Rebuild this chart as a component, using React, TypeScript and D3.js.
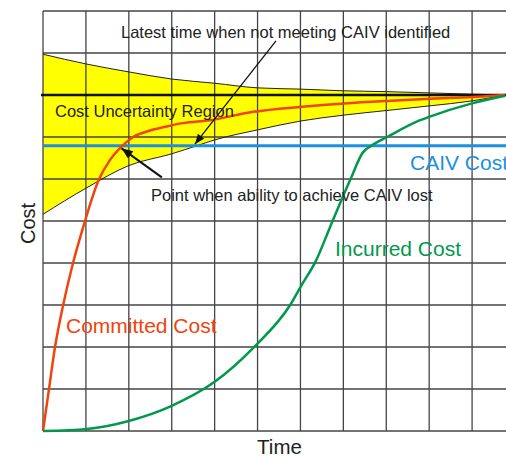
import React from "react";
import * as d3 from "d3";

// ---- data (time units, cost units) ----
const gridX = [0, 1, 2, 3, 4, 5, 6, 7, 8, 9, 10, 11];
const gridY = [0, 1, 2, 3, 4, 5, 6, 7, 8, 9, 10];
const targetCost = 8;
const caivCost = 6.79;

const upperTime = [0, 1, 2, 3, 4, 5, 6, 7, 8, 9, 10, 10.77];
const upperCost = [8.97, 8.74, 8.55, 8.38, 8.28, 8.17, 8.14, 8.1, 8.08, 8.05, 8.02, 8.0];
const lowerTime = [0, 1, 2, 3, 3.58, 4, 5, 6, 7, 8, 9, 10, 10.77];
const lowerCost = [5.16, 5.78, 6.32, 6.6, 6.79, 6.93, 7.17, 7.38, 7.52, 7.63, 7.74, 7.86, 8.0];

const committedTime = [0, 0.14, 0.28, 0.47, 0.7, 0.93, 1.3, 1.56, 1.83, 2.1, 2.42, 2.88, 3.26, 3.89, 4.9, 6.04, 7.02, 8.02, 9.02, 10.0, 10.77];
const committedCost = [0, 1.0, 2.0, 3.0, 4.0, 4.83, 5.98, 6.45, 6.77, 7.0, 7.13, 7.25, 7.33, 7.4, 7.6, 7.72, 7.8, 7.86, 7.91, 7.95, 8.0];

const incurredTime = [0, 1.03, 2.0, 3.0, 4.0, 4.9, 5.76, 6.03, 6.36, 6.68, 7.16, 7.46, 7.65, 8.02, 8.79, 9.0, 10.0, 10.77];
const incurredCost = [0, 0.05, 0.24, 0.6, 1.17, 1.98, 3.0, 3.48, 4.05, 4.83, 5.98, 6.64, 6.79, 7.0, 7.4, 7.48, 7.8, 7.98];

// annotation anchors (data units)
const arrowLatest = { from: [5.43, 9.29], to: [3.54, 6.83] };
const arrowPoint = { from: [2.77, 6.04], to: [1.83, 6.73] };

const W = 506;
const H = 457;

export default function App() {
  const x = d3.scaleLinear().domain([0, 11]).range([43, 515]);
  const y = d3.scaleLinear().domain([0, 10]).range([431, 11]);

  const upper = upperTime.map((t, i) => [t, upperCost[i]] as [number, number]);
  const lower = lowerTime.map((t, i) => [t, lowerCost[i]] as [number, number]);
  const committed = committedTime.map((t, i) => [t, committedCost[i]] as [number, number]);
  const incurred = incurredTime.map((t, i) => [t, incurredCost[i]] as [number, number]);

  const line = d3
    .line<[number, number]>()
    .x((d) => x(d[0]))
    .y((d) => y(d[1]))
    .curve(d3.curveMonotoneX);

  const upperPath = line(upper) || "";
  const lowerPath = line(lower) || "";
  const lowerRevPath = line([...lower].reverse()) || "";
  const regionPath = upperPath + "L" + lowerRevPath.slice(1) + "Z";

  const font = "'Liberation Sans', Arial, Helvetica, sans-serif";
  const gridColor = "#444";

  return (
    <svg
      width={W}
      height={H}
      style={{ position: "absolute", left: 0, top: 0, background: "#fff" }}
      fontFamily={font}
    >
      <defs>
        <marker id="ah1" viewBox="0 0 10 8" refX="10" refY="4" markerWidth="11" markerHeight="8" markerUnits="userSpaceOnUse" orient="auto">
          <path d="M0,0 L10,4 L0,8 Z" fill="#111" />
        </marker>
        <marker id="ah2" viewBox="0 0 10 8" refX="10" refY="4" markerWidth="12" markerHeight="9" markerUnits="userSpaceOnUse" orient="auto">
          <path d="M0,0 L10,4 L0,8 Z" fill="#111" />
        </marker>
      </defs>
      <rect x={0} y={0} width={W} height={H} fill="#fff" />

      {/* uncertainty region */}
      <path d={regionPath} fill="#ffff00" stroke="none" />

      {/* grid */}
      {gridX.map((g) => (
        <line key={"gx" + g} x1={x(g)} x2={x(g)} y1={y(0)} y2={y(10)} stroke={gridColor} strokeWidth={1.3} />
      ))}
      {gridY.map((g) => (
        <line key={"gy" + g} x1={x(0)} x2={x(11)} y1={y(g)} y2={y(g)} stroke={gridColor} strokeWidth={1.3} />
      ))}

      {/* region boundaries */}
      <path d={upperPath} fill="none" stroke="#222" strokeWidth={1} />
      <path d={lowerPath} fill="none" stroke="#222" strokeWidth={1} />

      {/* target line */}
      <line x1={x(0) - 2} x2={x(11)} y1={y(targetCost)} y2={y(targetCost)} stroke="#111" strokeWidth={2.6} />

      {/* CAIV line */}
      <line x1={x(0)} x2={x(11)} y1={y(caivCost)} y2={y(caivCost)} stroke="#1b8fe2" strokeWidth={3} />

      {/* curves */}
      <path d={line(committed) || ""} fill="none" stroke="#f0440c" strokeWidth={2.5} />
      <path d={line(incurred) || ""} fill="none" stroke="#00994c" strokeWidth={2.5} />

      {/* arrows */}
      <line
        x1={x(arrowLatest.from[0])}
        y1={y(arrowLatest.from[1])}
        x2={x(arrowLatest.to[0])}
        y2={y(arrowLatest.to[1])}
        stroke="#111"
        strokeWidth={1.3}
        markerEnd="url(#ah1)"
      />
      <line
        x1={x(arrowPoint.from[0])}
        y1={y(arrowPoint.from[1])}
        x2={x(arrowPoint.to[0])}
        y2={y(arrowPoint.to[1])}
        stroke="#111"
        strokeWidth={2}
        markerEnd="url(#ah2)"
      />

      {/* texts */}
      <text x={121} y={38} fontSize={16.5} fill="#222">Latest time when not meeting CAIV identified</text>
      <text x={55} y={117} fontSize={16.5} fill="#222">Cost Uncertainty Region</text>
      <text x={151} y={201} fontSize={16.5} fill="#222">Point when ability to achieve CAIV lost</text>
      <text x={410} y={170} fontSize={21} fill="#1b8fe2">CAIV Cost</text>
      <text x={335} y={256} fontSize={21} fill="#00994c">Incurred Cost</text>
      <text x={66} y={333} fontSize={21} fill="#f0440c">Committed Cost</text>
      <text transform={`translate(35,223.5) rotate(-90)`} textAnchor="middle" fontSize={20} fill="#222">Cost</text>
      <text x={279.5} y={454} textAnchor="middle" fontSize={20.5} fill="#222">Time</text>
    </svg>
  );
}
